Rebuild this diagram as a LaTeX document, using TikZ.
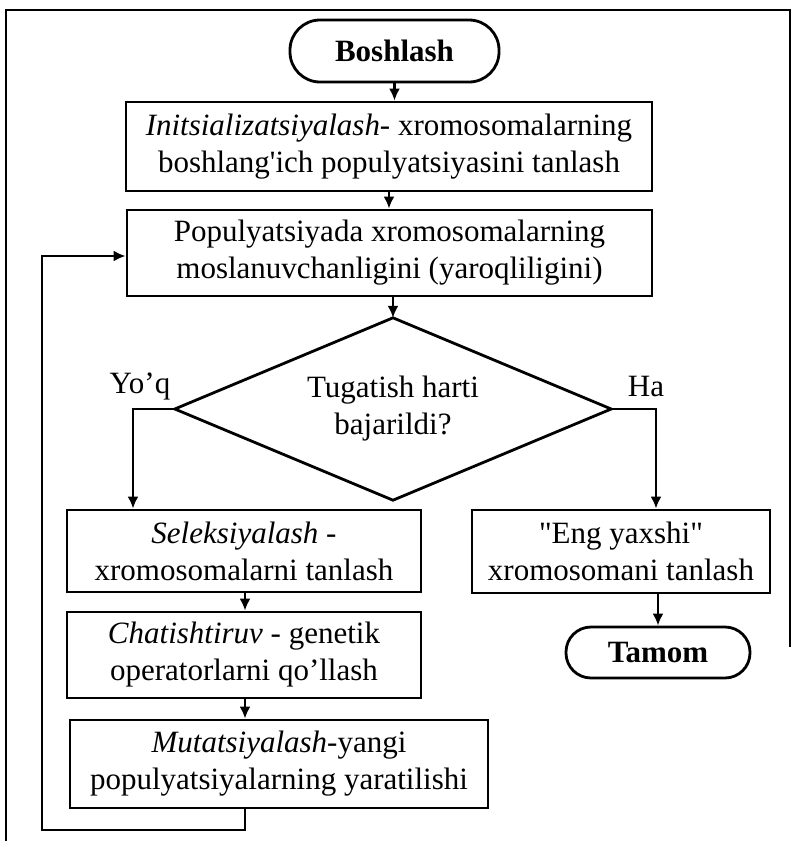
\documentclass[tikz,border=0pt]{standalone}
\usepackage{fontspec}
\usetikzlibrary{arrows.meta}
% plain family: keeps straight quotes as typed
\newfontfamily\flowserif{Liberation Serif}
\begin{document}
\begin{tikzpicture}[x=1pt,y=-1pt,
  every node/.style={font=\flowserif\fontsize{31}{37}\selectfont},
  frameline/.style={line width=2.6pt},
  procbox/.style={draw,rectangle,line width=2.8pt,align=center,inner sep=2pt},
  termbox/.style={draw,rectangle,line width=2.8pt,align=center,inner sep=2pt,font=\flowserif\bfseries\fontsize{31}{37}\selectfont},
  decbox/.style={rectangle,align=center,inner sep=0pt},
  flow/.style={line width=2.6pt,-{Latex[length=12pt,width=11pt]}}]
\useasboundingbox (0,0) rectangle (796,841);

% outer frame (open at the bottom right)
\draw[frameline] (6,841) -- (6,10) -- (790,10) -- (790,647);

% blocks
\node[termbox,rounded corners=30pt,minimum width=209pt,minimum height=62pt] (start) at (394.5,51) {Boshlash};
\node[procbox,minimum width=526pt,minimum height=89pt] (init) at (389,146.5)
  {\textit{Initsializatsiyalash}- xromosomalarning\\boshlang'ich populyatsiyasini tanlash};
\node[procbox,minimum width=525pt,minimum height=86pt] (fit) at (389.5,253)
  {Populyatsiyada xromosomalarning\\moslanuvchanligini (yaroqliligini)};
\node[decbox,minimum width=436pt,minimum height=182pt] (dec) at (393,409)
  {Tugatish harti\\bajarildi?};
\draw[line width=2.8pt,line join=miter] (dec.north) -- (dec.east) -- (dec.south) -- (dec.west) -- cycle;
\node[procbox,minimum width=354pt,minimum height=82pt] (sel) at (244,551)
  {\textit{Seleksiyalash} -\\xromosomalarni tanlash};
\node[procbox,minimum width=354pt,minimum height=86pt] (cross) at (244,655)
  {\textit{Chatishtiruv} - genetik\\operatorlarni qo’llash};
\node[procbox,minimum width=418pt,minimum height=88pt] (mut) at (279,764)
  {\textit{Mutatsiyalash}-yangi\\populyatsiyalarning yaratilishi};
\node[procbox,minimum width=298pt,minimum height=83pt] (best) at (621,551.5)
  {"Eng yaxshi"\\xromosomani tanlash};
\node[termbox,rounded corners=25pt,minimum width=184pt,minimum height=51pt] (stop) at (658,652.5) {Tamom};

% branch labels
\node (nolbl) at (140,386) {Yo’q};
\node (yeslbl) at (646,386) {Ha};

% junction points
\coordinate (nojoint) at (133,409);
\coordinate (yesjoint) at (656,409);
\coordinate (mutout) at (245,808);
\coordinate (loopa) at (245,830);
\coordinate (loopb) at (42,830);
\coordinate (loopc) at (42,256);

% connectors
\draw[flow] (start.south) -- (start.south |- init.north);
\draw[flow] (init.south) -- (init.south |- fit.north);
\draw[flow] (fit.south -| dec.north) -- (dec.north);
\draw[flow] (dec.west) -- (nojoint) -- (nojoint |- sel.north);
\draw[flow] (dec.east) -- (yesjoint) -- (yesjoint |- best.north);
\draw[flow] (sel.south -| mutout) -- (cross.north -| mutout);
\draw[flow] (cross.south -| mutout) -- (mut.north -| mutout);
\draw[flow] (best.south -| stop.north) -- (stop.north);
\draw[flow] (mutout) -- (loopa) -- (loopb) -- (loopc) -- (loopc -| fit.west);
\end{tikzpicture}
\end{document}
